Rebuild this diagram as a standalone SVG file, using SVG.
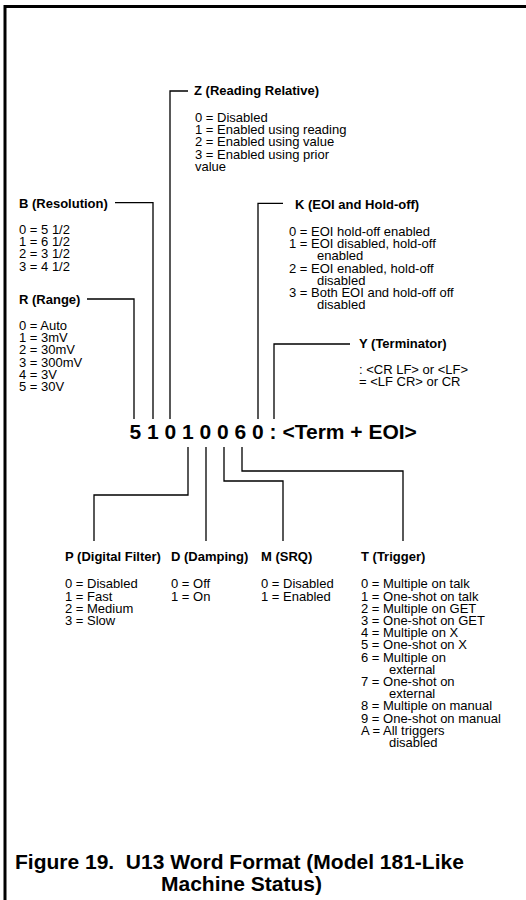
<svg xmlns="http://www.w3.org/2000/svg" width="526" height="900" viewBox="0 0 526 900">
<style>
text{font-family:"Liberation Sans",Arial,Helvetica,sans-serif;fill:#000}
.lbl{font-size:13px;font-weight:bold}
.val{font-size:13px}
.big{font-size:21px;font-weight:bold}
.cap{font-size:21px;font-weight:bold}
.ln{fill:none;stroke:#000;stroke-width:1.3}
.frame{fill:none;stroke:#000;stroke-width:3}
</style>
<rect width="526" height="900" fill="#fff"/>
<path class="frame" d="M5,905 V6.5 H532"/>
<g id="connectors">
<path class="ln" d="M87,299 H134 V419"/>
<path class="ln" d="M115,202.7 H153 V419"/>
<path class="ln" d="M188,91 H170 V419"/>
<path class="ln" d="M283,203.3 H258 V419"/>
<path class="ln" d="M350,344 H274 V419"/>
<path class="ln" d="M188,447 V495 H94 V541"/>
<path class="ln" d="M206,447 V541"/>
<path class="ln" d="M224,447 V481 H283 V541"/>
<path class="ln" d="M242,447 V471 H403 V541"/>
</g>
<g id="word">
<text class="big" x="129.5" y="439">5 1 0 1 0 0 6 0 : &lt;Term + EOI&gt;</text>
</g>
<g id="node-Z">
<text class="lbl" x="194" y="95">Z (Reading Relative)</text>
<text class="val" y="121.7"><tspan x="195">0 = Disabled</tspan><tspan x="195" dy="12.3">1 = Enabled using reading</tspan><tspan x="195" dy="12.3">2 = Enabled using value</tspan><tspan x="195" dy="12.3">3 = Enabled using prior</tspan><tspan x="195" dy="12.3">value</tspan></text>
</g>
<g id="node-B">
<text class="lbl" x="19" y="207.5">B (Resolution)</text>
<text class="val" y="234"><tspan x="19">0 = 5 1/2</tspan><tspan x="19" dy="12.2">1 = 6 1/2</tspan><tspan x="19" dy="12.2">2 = 3 1/2</tspan><tspan x="19" dy="12.2">3 = 4 1/2</tspan></text>
</g>
<g id="node-R">
<text class="lbl" x="19" y="303.5">R (Range)</text>
<text class="val" y="330"><tspan x="19">0 = Auto</tspan><tspan x="19" dy="12.2">1 = 3mV</tspan><tspan x="19" dy="12.2">2 = 30mV</tspan><tspan x="19" dy="12.2">3 = 300mV</tspan><tspan x="19" dy="12.2">4 = 3V</tspan><tspan x="19" dy="12.2">5 = 30V</tspan></text>
</g>
<g id="node-K">
<text class="lbl" x="295" y="208.5">K (EOI and Hold-off)</text>
<text class="val" y="236"><tspan x="289">0 = EOI hold-off enabled</tspan><tspan x="289" dy="12.2">1 = EOI disabled, hold-off</tspan><tspan x="317" dy="12.2">enabled</tspan><tspan x="289" dy="12.2">2 = EOI enabled, hold-off</tspan><tspan x="317" dy="12.2">disabled</tspan><tspan x="289" dy="12.2">3 = Both EOI and hold-off off</tspan><tspan x="317" dy="12.2">disabled</tspan></text>
</g>
<g id="node-Y">
<text class="lbl" x="359" y="348.3">Y (Terminator)</text>
<text class="val" y="373.5"><tspan x="359">: &lt;CR LF&gt; or &lt;LF&gt;</tspan><tspan x="359" dy="12.2">= &lt;LF CR&gt; or CR</tspan></text>
</g>
<g id="node-P">
<text class="lbl" x="65" y="561">P (Digital Filter)</text>
<text class="val" y="588.3"><tspan x="65">0 = Disabled</tspan><tspan x="65" dy="12.2">1 = Fast</tspan><tspan x="65" dy="12.2">2 = Medium</tspan><tspan x="65" dy="12.2">3 = Slow</tspan></text>
</g>
<g id="node-D">
<text class="lbl" x="171" y="561">D (Damping)</text>
<text class="val" y="588.3"><tspan x="171">0 = Off</tspan><tspan x="171" dy="12.2">1 = On</tspan></text>
</g>
<g id="node-M">
<text class="lbl" x="261" y="561">M (SRQ)</text>
<text class="val" y="588.3"><tspan x="261">0 = Disabled</tspan><tspan x="261" dy="12.2">1 = Enabled</tspan></text>
</g>
<g id="node-T">
<text class="lbl" x="361" y="561">T (Trigger)</text>
<text class="val" y="588.3"><tspan x="361">0 = Multiple on talk</tspan><tspan x="361" dy="12.2">1 = One-shot on talk</tspan><tspan x="361" dy="12.2">2 = Multiple on GET</tspan><tspan x="361" dy="12.2">3 = One-shot on GET</tspan><tspan x="361" dy="12.2">4 = Multiple on X</tspan><tspan x="361" dy="12.2">5 = One-shot on X</tspan><tspan x="361" dy="12.2">6 = Multiple on</tspan><tspan x="389" dy="12.2">external</tspan><tspan x="361" dy="12.2">7 = One-shot on</tspan><tspan x="389" dy="12.2">external</tspan><tspan x="361" dy="12.2">8 = Multiple on manual</tspan><tspan x="361" dy="12.2">9 = One-shot on manual</tspan><tspan x="361" dy="12.2">A = All triggers</tspan><tspan x="389" dy="12.2">disabled</tspan></text>
</g>
<g id="caption">
<text class="cap" x="15" y="869">Figure 19.&#160; U13 Word Format (Model 181-Like</text>
<text class="cap" x="161" y="891">Machine Status)</text>
</g>
</svg>
